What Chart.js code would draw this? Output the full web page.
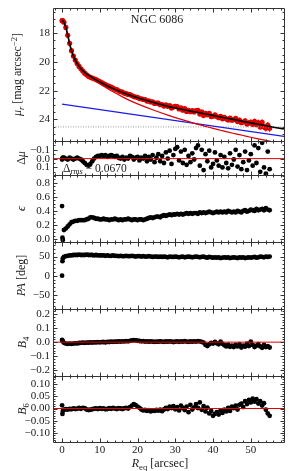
<!DOCTYPE html>
<html>
<head>
<meta charset="utf-8">
<title>NGC 6086</title>
<script src="https://cdn.jsdelivr.net/npm/chart.js@4.4.1/dist/chart.umd.min.js"></script>
<style>
  html, body { margin: 0; padding: 0; background: #fff; }
  #wrap { position: relative; width: 293px; height: 471px; overflow: hidden; }
  #wrap canvas { position: absolute; left: 0; }
</style>
</head>
<body>
<div id="wrap">
  <canvas id="cMu"></canvas>
  <canvas id="cRes"></canvas>
  <canvas id="cEps"></canvas>
  <canvas id="cPa"></canvas>
  <canvas id="cB4"></canvas>
  <canvas id="cB6"></canvas>
</div>
<script>
// equivalent radius of each isophote [arcsec]
const R = [0, 0.1, 0.2,
  0.5, 1, 1.5, 2, 2.5, 3, 3.5, 4, 4.5, 5,
  5.5, 6, 6.5, 7, 7.5, 8, 8.5, 9, 9.5, 10,
  10.5, 11, 11.5, 12, 12.5, 13, 13.5, 14, 14.5, 15,
  15.5, 16, 16.5, 17, 17.5, 18, 18.5, 19, 19.5, 20,
  20.5, 21, 21.5, 22, 22.5, 23, 23.5, 24, 24.5, 25,
  25.5, 26, 26.5, 27, 27.5, 28, 28.5, 29, 29.5, 30,
  30.5, 31, 31.5, 32, 32.5, 33, 33.5, 34, 34.5, 35,
  35.5, 36, 36.5, 37, 37.5, 38, 38.5, 39, 39.5, 40,
  40.5, 41, 41.5, 42, 42.5, 43, 43.5, 44, 44.5, 45,
  45.5, 46, 46.5, 47, 47.5, 48, 48.5, 49, 49.5, 50,
  50.5, 51, 51.5, 52, 52.5, 53, 53.5, 54, 54.5, 55];

// surface brightness profile and its errors
const muObs = [17.13, 17.13, 17.14,
  17.24, 17.6, 18.15, 18.71, 19.22, 19.59, 19.87, 20.11, 20.31, 20.48,
  20.64, 20.78, 20.9, 21.0, 21.07, 21.12, 21.17, 21.23, 21.3, 21.37,
  21.43, 21.51, 21.57, 21.65, 21.7, 21.75, 21.82, 21.89, 21.93, 22.01,
  22.07, 22.1, 22.18, 22.21, 22.26, 22.28, 22.34, 22.41, 22.44, 22.47,
  22.55, 22.56, 22.61, 22.62, 22.72, 22.71, 22.78, 22.77, 22.89, 22.87,
  22.87, 22.98, 22.96, 23.07, 22.99, 23.09, 23.03, 23.21, 23.13, 23.09,
  23.1, 23.27, 23.2, 23.36, 23.24, 23.44, 23.36, 23.46, 23.39, 23.48,
  23.38, 23.37, 23.63, 23.47, 23.73, 23.57, 23.68, 23.58, 23.8, 23.78,
  23.68, 23.8, 23.88, 23.79, 23.96, 23.86, 23.96, 24.04, 23.9, 24.05,
  24.02, 23.93, 24.15, 24.05, 24.23, 24.18, 24.09, 24.32, 24.24, 24.19,
  24.35, 24.14, 24.37, 24.22, 24.52, 24.21, 24.52, 24.61, 24.39, 24.61];
const muErr = [0.01, 0.01, 0.01,
  0.01, 0.01, 0.01, 0.01, 0.01, 0.01, 0.01, 0.01, 0.01, 0.01,
  0.01, 0.01, 0.01, 0.01, 0.01, 0.01, 0.02, 0.02, 0.02, 0.02,
  0.02, 0.02, 0.03, 0.02, 0.03, 0.03, 0.03, 0.03, 0.04, 0.03,
  0.04, 0.04, 0.03, 0.04, 0.05, 0.04, 0.05, 0.05, 0.04, 0.05,
  0.05, 0.06, 0.05, 0.06, 0.06, 0.07, 0.06, 0.07, 0.07, 0.06,
  0.07, 0.08, 0.07, 0.08, 0.08, 0.09, 0.08, 0.09, 0.09, 0.1,
  0.09, 0.1, 0.1, 0.11, 0.1, 0.11, 0.12, 0.11, 0.1, 0.12,
  0.12, 0.13, 0.11, 0.12, 0.13, 0.12, 0.14, 0.13, 0.12, 0.14,
  0.13, 0.14, 0.15, 0.13, 0.14, 0.15, 0.14, 0.16, 0.15, 0.14,
  0.15, 0.16, 0.15, 0.17, 0.16, 0.15, 0.17, 0.16, 0.18, 0.17,
  0.18, 0.2, 0.17, 0.21, 0.19, 0.22, 0.2, 0.24, 0.22, 0.26];

// residuals from the fit
const dMu = [0.01, 0.0, -0.01,
  -0.01, 0.0, 0.01, -0.01, 0.0, 0.01, 0.0, -0.01, 0.0, 0.01,
  0.03, 0.05, 0.07, 0.08, 0.06, 0.03, 0.0, -0.02, -0.03, -0.03,
  -0.04, -0.03, -0.04, -0.02, -0.03, -0.04, -0.03, -0.02, -0.03, -0.01,
  0.0, -0.02, 0.01, -0.01, 0.0, -0.03, -0.02, 0.01, -0.01, -0.02,
  0.02, -0.01, 0.0, -0.03, 0.03, -0.02, 0.01, -0.04, 0.04, -0.01,
  -0.05, 0.03, -0.03, 0.05, -0.07, 0.0, -0.09, 0.06, -0.04, -0.11,
  -0.13, 0.02, -0.08, 0.05, -0.1, 0.07, -0.03, 0.04, -0.06, 0.01,
  -0.12, -0.15, 0.08, -0.1, 0.13, -0.05, 0.03, -0.09, 0.1, 0.06,
  -0.07, 0.02, 0.08, -0.04, 0.1, -0.02, 0.05, 0.11, -0.06, 0.07,
  0.01, -0.1, 0.09, -0.04, 0.12, 0.04, -0.08, 0.13, 0.02, -0.05,
  0.08, -0.15, 0.05, -0.12, 0.15, -0.18, 0.1, 0.17, -0.08, 0.12];

// ellipticity
const eps = [0.47, 0.02, -0.01,
  0.13, 0.15, 0.18, 0.21, 0.24, 0.25, 0.26, 0.26, 0.27, 0.27,
  0.27, 0.27, 0.28, 0.29, 0.31, 0.31, 0.3, 0.29, 0.29, 0.28,
  0.28, 0.29, 0.28, 0.28, 0.27, 0.28, 0.28, 0.29, 0.28, 0.27,
  0.28, 0.27, 0.28, 0.28, 0.29, 0.28, 0.27, 0.28, 0.28, 0.27,
  0.28, 0.28, 0.27, 0.28, 0.29, 0.3, 0.31, 0.3, 0.31, 0.32,
  0.32, 0.31, 0.33, 0.34, 0.33, 0.34, 0.35, 0.34, 0.35, 0.35,
  0.36, 0.35, 0.36, 0.35, 0.36, 0.37, 0.36, 0.37, 0.36, 0.37,
  0.37, 0.36, 0.38, 0.37, 0.38, 0.37, 0.38, 0.39, 0.38, 0.37,
  0.38, 0.39, 0.38, 0.39, 0.38, 0.39, 0.38, 0.4, 0.39, 0.38,
  0.39, 0.38, 0.4, 0.39, 0.38, 0.4, 0.41, 0.39, 0.4, 0.42,
  0.41, 0.4, 0.43, 0.41, 0.42, 0.43, 0.41, 0.44, 0.42, 0.41];

// position angle [deg]
const pa = [0, 38, 45,
  49, 51, 52, 53, 53, 54, 54, 54, 55, 54,
  54, 54, 55, 54, 54, 54, 53, 54, 53, 53,
  53, 53, 52, 53, 52, 52, 53, 52, 52, 51,
  52, 51, 51, 52, 51, 51, 52, 51, 50, 51,
  51, 50, 51, 50, 50, 51, 50, 49, 50, 50,
  49, 50, 49, 50, 49, 48, 50, 49, 49, 50,
  49, 48, 49, 50, 48, 49, 50, 49, 48, 49,
  50, 49, 48, 49, 50, 48, 47, 49, 48, 47,
  48, 47, 48, 46, 47, 48, 47, 48, 46, 47,
  48, 47, 46, 48, 47, 48, 46, 47, 48, 47,
  48, 49, 47, 48, 50, 49, 48, 50, 49, 50];

// fourth and sixth cosine harmonics
const b4 = [0.016, 0.01, 0.005,
  -0.005, -0.01, -0.012, -0.01, -0.012, -0.01, -0.008, -0.009, -0.006, -0.005,
  -0.004, -0.005, -0.003, -0.004, -0.002, -0.003, -0.001, -0.002, 0.0, -0.001,
  0.0, 0.001, -0.002, 0.002, 0.001, 0.003, 0.002, 0.004, 0.003, 0.005,
  0.004, 0.006, 0.005, 0.007, 0.006, 0.009, 0.012, 0.015, 0.013, 0.01,
  0.008, 0.006, 0.007, 0.004, 0.006, 0.003, 0.005, 0.004, 0.002, 0.004,
  0.003, 0.006, 0.004, 0.002, 0.005, 0.003, 0.006, 0.004, 0.001, 0.004,
  0.005, 0.002, 0.006, 0.003, 0.007, 0.004, 0.002, 0.005, 0.003, 0.006,
  0.004, 0.007, 0.005, 0.002, -0.004, -0.02, -0.028, -0.015, -0.006, -0.01,
  0.002, -0.008, -0.015, 0.004, -0.012, -0.022, -0.03, -0.018, -0.033, -0.025,
  -0.035, -0.02, -0.03, -0.015, -0.038, -0.025, -0.032, -0.01, -0.028, 0.004,
  -0.02, -0.035, -0.025, -0.015, -0.03, -0.04, -0.02, -0.035, -0.028, -0.038];
const b6 = [0.013, -0.022, -0.01,
  -0.005, -0.003, -0.004, -0.002, -0.003, 0.0, -0.002, -0.001, 0.002, -0.001,
  0.003, 0.001, -0.004, -0.006, -0.005, -0.003, -0.001, 0.0, -0.002, 0.001,
  -0.001, 0.0, -0.003, -0.002, 0.001, -0.001, 0.002, 0.0, -0.002, 0.001,
  0.0, -0.002, 0.001, 0.003, 0.0, 0.006, 0.012, 0.018, 0.014, 0.008,
  0.003, -0.004, -0.008, -0.006, -0.01, -0.007, -0.012, -0.008, -0.01, -0.006,
  -0.009, -0.005, -0.011, -0.004, 0.003, -0.002, 0.008, 0.002, 0.01, -0.003,
  0.006, -0.008, 0.012, 0.002, -0.006, 0.008, -0.015, 0.015, -0.004, 0.005,
  0.018, 0.002, 0.025, -0.005, 0.01, -0.012, 0.004, -0.02, -0.01, -0.03,
  -0.022, -0.015, -0.025, -0.008, -0.018, -0.005, -0.012, 0.002, -0.01, 0.008,
  0.002, 0.012, -0.004, 0.015, 0.02, 0.006, 0.03, 0.018, 0.035, 0.025,
  0.04, 0.028, 0.038, 0.02, 0.03, 0.012, 0.022, -0.005, -0.02, -0.03];

// fitted model: total, bulge and exponential disc
const modelR = [0, 0.5, 1, 1.5, 2, 2.5, 3, 3.5, 4, 5, 6, 7, 8, 9, 10, 12, 14, 16, 18, 20,
  22, 24, 26, 28, 30, 32, 34, 36, 38, 40, 42, 44, 46, 48, 50, 52, 54, 56, 58.8];
const muTotal = [17.12, 17.25, 17.6, 18.14, 18.72, 19.22, 19.58, 19.87, 20.12, 20.47,
  20.73, 20.92, 21.09, 21.25, 21.4, 21.67, 21.91, 22.12, 22.31, 22.49,
  22.65, 22.81, 22.95, 23.09, 23.2, 23.31, 23.42, 23.52, 23.62, 23.72,
  23.83, 23.93, 24.03, 24.14, 24.24, 24.34, 24.44, 24.54, 24.66];
const muBulge = [17.12, 17.25, 17.6, 18.14, 18.73, 19.23, 19.6, 19.89, 20.14, 20.49,
  20.76, 20.97, 21.16, 21.34, 21.52, 21.85, 22.15, 22.43, 22.69, 22.92,
  23.13, 23.33, 23.52, 23.7, 23.87, 24.03, 24.19, 24.34, 24.48, 24.62,
  24.75, 24.88, 25.0, 25.12, 25.24, 25.35, 25.46, 25.57, 25.72];
const diskR = [0, 58.8];
const muDisk = [22.93, 25.18];
const SKY = 24.52;

// tick labels
const xTicks = [0, 10, 20, 30, 40, 50];
const muTicks = [18, 20, 22, 24];
const dMuTicks = [-0.1, 0, 0.1];
const epsTicks = [0, 0.2, 0.4, 0.6, 0.8];
const paTicks = [-50, 0, 50];
const b4Ticks = [-0.2, -0.1, 0, 0.1, 0.2];
const b6Ticks = [-0.1, -0.05, 0, 0.05, 0.1];

// page layout
const W = 293, H = 471, PAD = 10;
const PLOT_LEFT = 53, PLOT_RIGHT = 284;
const X_MIN = -2.4, X_MAX = 58.8;
const FONT = "'Liberation Serif', 'DejaVu Serif', serif";
const INK = '#1a1a1a';
const FRAME = '#333';
const RED = '#e00000';
const BLUE = '#1c1ce8';

const pts = (xs, ys) => xs.map((x, i) => ({ x: x, y: ys[i] }));
const fmt = d => v => (v < -1e-9 ? '\u2212' : '') + Math.abs(v).toFixed(d);

function drawRich(ctx, parts, x, y, size, align, rotate) {
  const fontOf = p => (p.i ? 'italic ' : '') + ((p.sub || p.sup) ? size * 0.72 : size) + 'px ' + FONT;
  ctx.save();
  ctx.translate(x, y);
  if (rotate) ctx.rotate(-Math.PI / 2);
  let w = 0;
  parts.forEach(p => { ctx.font = fontOf(p); w += ctx.measureText(p.t).width; });
  let cx = align === 'left' ? 0 : -w / 2;
  ctx.fillStyle = INK;
  ctx.textBaseline = 'alphabetic';
  ctx.textAlign = 'left';
  parts.forEach(p => {
    ctx.font = fontOf(p);
    const dy = p.sub ? size * 0.25 : (p.sup ? -size * 0.38 : 0);
    ctx.fillText(p.t, cx, dy + size * 0.35);
    cx += ctx.measureText(p.t).width;
  });
  ctx.restore();
}

// frame, inward ticks and text labels
function overlay(p, cTop) {
  return {
    id: 'overlay',
    beforeDatasetsDraw(chart) {
      // error bars under the points
      const { ctx, chartArea: a } = chart;
      ctx.save();
      ctx.beginPath();
      ctx.rect(a.left, a.top, a.right - a.left, a.bottom - a.top);
      ctx.clip();
      chart.data.datasets.forEach((ds, di) => {
        if (!ds.errors) return;
        const meta = chart.getDatasetMeta(di);
        const ys = chart.scales[meta.yAxisID];
        ctx.strokeStyle = ds.backgroundColor;
        ctx.lineWidth = 1;
        ctx.beginPath();
        ds.data.forEach((pt, i) => {
          const px = meta.data[i].x;
          ctx.moveTo(px, ys.getPixelForValue(pt.y - ds.errors[i]));
          ctx.lineTo(px, ys.getPixelForValue(pt.y + ds.errors[i]));
        });
        ctx.stroke();
      });
      ctx.restore();
    },
    afterDraw(chart) {
      const { ctx, chartArea: a } = chart;
      const xs = chart.scales.x, ys = chart.scales.y;
      ctx.save();
      ctx.strokeStyle = FRAME;
      ctx.lineWidth = 1;
      const L = a.left + 0.5, Rr = a.right + 0.5, T = a.top + 0.5, B = a.bottom + 0.5;
      ctx.beginPath();
      ctx.moveTo(L, T); ctx.lineTo(Rr, T); ctx.lineTo(Rr, B); ctx.lineTo(L, B); ctx.closePath();
      // x ticks, major every 10, minor every 2
      for (let k = Math.ceil(X_MIN / 2); k * 2 <= X_MAX; k++) {
        const v = k * 2;
        const len = v % 10 === 0 ? 4 : 2;
        const px = Math.round(xs.getPixelForValue(v)) + 0.5;
        ctx.moveTo(px, T); ctx.lineTo(px, T + len);
        ctx.moveTo(px, B); ctx.lineTo(px, B - len);
      }
      // y ticks
      const lo = Math.min(p.min, p.max), hi = Math.max(p.min, p.max);
      for (let k = Math.ceil(lo / p.minor - 1e-6); k * p.minor <= hi + 1e-9; k++) {
        const v = k * p.minor;
        const major = p.ticks.some(t => Math.abs(t - v) < p.minor / 10);
        const len = major ? 4 : 2;
        const py = Math.round(ys.getPixelForValue(v)) + 0.5;
        ctx.moveTo(L, py); ctx.lineTo(L + len, py);
        ctx.moveTo(Rr, py); ctx.lineTo(Rr - len, py);
      }
      ctx.stroke();
      ctx.restore();
      const midY = (a.top + a.bottom) / 2;
      drawRich(ctx, p.title, p.titleX, midY, 12, 'center', true);
      (p.notes || []).forEach(n => drawRich(ctx, n.parts, n.x, n.y - cTop, n.size, n.align, false));
    }
  };
}

function makePanel(id, p) {
  const canvas = document.getElementById(id);
  const cTop = p.top - PAD;
  const cH = p.showX ? H - cTop : p.bottom - p.top + 2 * PAD;
  canvas.width = W;
  canvas.height = cH;
  canvas.style.width = W + 'px';
  canvas.style.height = cH + 'px';
  canvas.style.top = cTop + 'px';
  const tickFont = { family: FONT, size: 11 };
  return new Chart(canvas, {
    type: 'scatter',
    data: { datasets: p.datasets },
    options: {
      responsive: false,
      animation: false,
      events: [],
      layout: { padding: { top: PAD, bottom: p.showX ? 0 : PAD, left: 0, right: W - PLOT_RIGHT } },
      plugins: { legend: { display: false }, tooltip: { enabled: false } },
      scales: {
        x: {
          type: 'linear', min: X_MIN, max: X_MAX, display: !!p.showX,
          grid: { display: false, drawTicks: false }, border: { display: false },
          ticks: { font: tickFont, color: INK, padding: 2, maxRotation: 0, autoSkip: false },
          afterBuildTicks: s => { s.ticks = xTicks.map(v => ({ value: v })); },
          afterFit: s => {
            if (p.showX) s.height = H - p.bottom;
            s.paddingLeft = 0; s.paddingRight = 0;
          }
        },
        y: {
          type: 'linear', min: p.min, max: p.max, reverse: !!p.reverse,
          grid: { display: false, drawTicks: false }, border: { display: false },
          ticks: { font: tickFont, color: INK, padding: 3, autoSkip: false, callback: p.fmt },
          afterBuildTicks: s => { s.ticks = p.ticks.map(v => ({ value: v })); },
          afterFit: s => { s.width = PLOT_LEFT; s.paddingTop = 0; s.paddingBottom = 0; }
        }
      }
    },
    plugins: [overlay(p, cTop)]
  });
}

const dots = (ys, color, r) => ({
  data: pts(R, ys), pointRadius: r || 2.4, pointBorderWidth: 0,
  backgroundColor: color, borderColor: color
});
const zeroLine = () => ({
  data: pts([X_MIN, X_MAX], [0, 0]), showLine: true, borderColor: RED,
  borderWidth: 1, pointRadius: 0
});

// surface brightness
makePanel('cMu', {
  top: 8, bottom: 141, min: 16.25, max: 25.5, reverse: true,
  ticks: muTicks, minor: 0.5, fmt: fmt(0), titleX: 17,
  title: [{ t: '\u03bc', i: 1 }, { t: 'r', i: 1, sub: 1 }, { t: ' [mag arcsec' }, { t: '\u22122', sup: 1 }, { t: ']' }],
  notes: [{ parts: [{ t: 'NGC 6086' }], x: 157, y: 19, size: 12, align: 'center' }],
  datasets: [
    { data: pts(modelR, muTotal), showLine: true, borderColor: '#000', borderWidth: 1.6,
      pointRadius: 0, cubicInterpolationMode: 'monotone' },
    { data: pts(modelR, muBulge), showLine: true, borderColor: RED, borderWidth: 1.2,
      pointRadius: 0, cubicInterpolationMode: 'monotone' },
    { data: pts(diskR, muDisk), showLine: true, borderColor: BLUE, borderWidth: 1.2, pointRadius: 0 },
    { data: pts([X_MIN, X_MAX], [SKY, SKY]), showLine: true, borderColor: '#9a9a9a',
      borderWidth: 1, borderDash: [1, 1.5], pointRadius: 0 },
    Object.assign(dots(muObs, RED, 2.6), { errors: muErr })
  ]
});

// residuals
makePanel('cRes', {
  top: 141, bottom: 175, min: -0.2, max: 0.186, reverse: true,
  ticks: dMuTicks, minor: 0.05, fmt: fmt(1), titleX: 21,
  title: [{ t: '\u0394' }, { t: '\u03bc', i: 1 }],
  notes: [{ parts: [{ t: '\u0394' }, { t: 'rms', i: 1, sub: 1 }, { t: ' = 0.0670' }], x: 63, y: 167.5, size: 11.5, align: 'left' }],
  datasets: [zeroLine(), dots(dMu, '#000')]
});

// ellipticity
makePanel('cEps', {
  top: 175, bottom: 242, min: -0.04, max: 0.91,
  ticks: epsTicks, minor: 0.05, fmt: fmt(1), titleX: 21,
  title: [{ t: '\u03f5', i: 1 }],
  datasets: [dots(eps, '#000')]
});

// position angle
makePanel('cPa', {
  top: 242, bottom: 309, min: -87, max: 88,
  ticks: paTicks, minor: 10, fmt: fmt(0), titleX: 21,
  title: [{ t: 'PA', i: 1 }, { t: ' [deg]' }],
  datasets: [dots(pa, '#000')]
});

// B4
makePanel('cB4', {
  top: 309, bottom: 376, min: -0.24, max: 0.235,
  ticks: b4Ticks, minor: 0.02, fmt: fmt(1), titleX: 22,
  title: [{ t: 'B', i: 1 }, { t: '4', sub: 1 }],
  datasets: [zeroLine(), dots(b4, '#000')]
});

// B6 with the radius axis
makePanel('cB6', {
  top: 376, bottom: 442, min: -0.137, max: 0.133, showX: true,
  ticks: b6Ticks, minor: 0.01, fmt: fmt(2), titleX: 22,
  title: [{ t: 'B', i: 1 }, { t: '6', sub: 1 }],
  notes: [{ parts: [{ t: 'R', i: 1 }, { t: 'eq', sub: 1 }, { t: ' [arcsec]' }], x: 160, y: 463, size: 12, align: 'center' }],
  datasets: [zeroLine(), dots(b6, '#000')]
});
</script>
</body>
</html>
